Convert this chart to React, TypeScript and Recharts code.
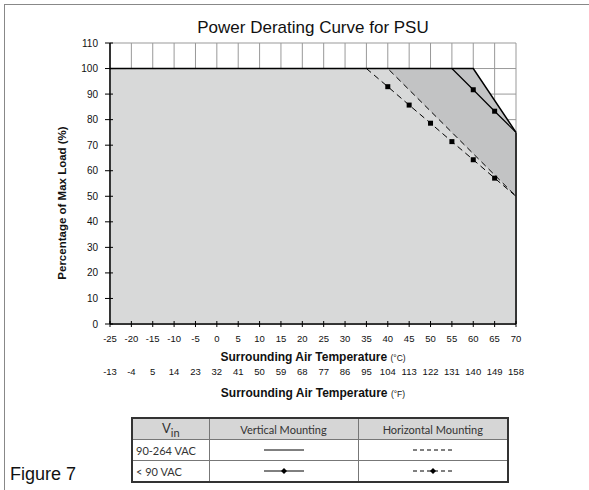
import React from 'react';
import { ComposedChart, Area, Line, XAxis, YAxis, CartesianGrid, ReferenceLine } from 'recharts';

const celsiusTicks = [-25, -20, -15, -10, -5, 0, 5, 10, 15, 20, 25, 30, 35, 40, 45, 50, 55, 60, 65, 70];
const fahrenheitTicks = [-13, -4, 5, 14, 23, 32, 41, 50, 59, 68, 77, 86, 95, 104, 113, 122, 131, 140, 149, 158];
const loadTicks = [0, 10, 20, 30, 40, 50, 60, 70, 80, 90, 100, 110];

// vertical mounting, 90-264 VAC
const vertHighTemp = [-25, 60, 70];
const vertHighLoad = [100, 100, 75];
// vertical mounting, < 90 VAC
const vertLowTemp = [55, 60, 65, 70];
const vertLowLoad = [100, 91.7, 83.3, 75];
// horizontal mounting, 90-264 VAC
const horizHighTemp = [-25, 40, 70];
const horizHighLoad = [100, 100, 50];
// horizontal mounting, < 90 VAC
const horizLowTemp = [35, 40, 45, 50, 55, 60, 65, 70];
const horizLowLoad = [100, 92.9, 85.7, 78.6, 71.4, 64.3, 57.1, 50];

const toPoints = (temps: number[], loads: number[]) => temps.map((t, i) => ({ temp: t, load: loads[i] }));

const vertHigh = toPoints(vertHighTemp, vertHighLoad);
const vertLow = toPoints(vertLowTemp, vertLowLoad);
const horizHigh = toPoints(horizHighTemp, horizHighLoad);
const horizLow = toPoints(horizLowTemp, horizLowLoad);

const FONT = '"Liberation Sans", Arial, sans-serif';

// square marker on inner points only (end points sit on other curves)
const squareDot = (count: number) => (p: any) => {
  const { cx, cy, index } = p;
  if (index === 0 || index === count - 1 || cx == null) return <g key={'d' + index} />;
  return <rect key={'d' + index} x={cx - 2.5} y={cy - 2.5} width={5} height={5} fill="#000" />;
};

const XTick = (p: any) => {
  const { x, y, payload } = p;
  const i = celsiusTicks.indexOf(payload.value);
  return (
    <g>
      <line x1={x} x2={x} y1={y - 3} y2={y + 3} stroke="#000" />
      <text x={x} y={y + 18} textAnchor="middle" fontSize={9.5} fontFamily={FONT} fill="#111">{payload.value}</text>
      <text x={x} y={y + 51} textAnchor="middle" fontSize={9.5} fontFamily={FONT} fill="#111">{fahrenheitTicks[i]}</text>
    </g>
  );
};

const YTick = (p: any) => {
  const { x, y, payload } = p;
  return (
    <g>
      <line x1={x - 5} x2={x + 3} y1={y} y2={y} stroke="#000" />
      <text x={x - 12} y={y + 3.5} textAnchor="end" fontSize={10} fontFamily={FONT} fill="#111">{payload.value}</text>
    </g>
  );
};

const Glyph = ({ dashed, marker }: { dashed?: boolean; marker?: boolean }) => (
  <svg width={40} height={8} style={{ display: 'block', margin: '0 auto' }}>
    <line x1={0} x2={40} y1={4} y2={4} stroke="#000" strokeWidth={1} strokeDasharray={dashed ? '4 3' : undefined} />
    {marker && <polygon points="20,1 23,4 20,7 17,4" fill="#000" />}
  </svg>
);

const cell: React.CSSProperties = { border: '1px solid #777', padding: '0 3px', height: 20, fontFamily: 'Lato, sans-serif', fontSize: 11, color: '#333' };

export default function App() {
  return (
    <div style={{ position: 'absolute', left: 0, top: 0, width: 589, height: 490, background: '#fff', overflow: 'hidden' }}>
      <div style={{ position: 'absolute', left: 4, top: 4, width: 585, borderTop: '1.5px solid #888' }} />
      <div style={{ position: 'absolute', left: 4, top: 4, height: 486, borderLeft: '1.5px solid #888' }} />

      <div style={{ position: 'absolute', left: 110, width: 406, top: 18, textAlign: 'center', fontFamily: FONT, fontSize: 17, lineHeight: '20px', color: '#111' }}>
        Power Derating Curve for PSU
      </div>

      <div style={{ position: 'absolute', left: 0, top: 0 }}>
        <ComposedChart width={589} height={400} margin={{ top: 43, right: 73, left: 70, bottom: 16 }}>
          <CartesianGrid stroke="#999" strokeWidth={1} horizontalValues={loadTicks} verticalValues={celsiusTicks} />
          <XAxis
            dataKey="temp"
            type="number"
            domain={[-25, 70]}
            ticks={celsiusTicks}
            interval={0}
            allowDuplicatedCategory={false}
            height={60}
            tickSize={0}
            tickMargin={0}
            tick={<XTick />}
            axisLine={{ stroke: '#000', strokeWidth: 1.5 }}
            tickLine={false}
          />
          <YAxis
            type="number"
            domain={[0, 110]}
            ticks={loadTicks}
            interval={0}
            width={40}
            tickSize={0}
            tickMargin={0}
            tick={<YTick />}
            axisLine={{ stroke: '#000', strokeWidth: 1.5 }}
            tickLine={false}
          />
          <Area data={vertHigh} dataKey="load" type="linear" stroke="none" fill="#c2c3c4" fillOpacity={1} isAnimationActive={false} />
          <Area data={horizHigh} dataKey="load" type="linear" stroke="none" fill="#d8d9d9" fillOpacity={1} isAnimationActive={false} />
          <ReferenceLine
            segment={[{ x: vertHighTemp[vertHighTemp.length - 1], y: 0 }, { x: vertHighTemp[vertHighTemp.length - 1], y: vertHighLoad[vertHighLoad.length - 1] }]}
            stroke="#000"
            strokeWidth={1.5}
          />
          <Line data={horizHigh} dataKey="load" type="linear" stroke="#000" strokeWidth={1} strokeDasharray="6 4" dot={false} isAnimationActive={false} />
          <Line data={horizLow} dataKey="load" type="linear" stroke="#000" strokeWidth={1} strokeDasharray="6 4" dot={squareDot(horizLow.length)} isAnimationActive={false} />
          <Line data={vertLow} dataKey="load" type="linear" stroke="#000" strokeWidth={1.2} dot={squareDot(vertLow.length)} isAnimationActive={false} />
          <Line data={vertHigh} dataKey="load" type="linear" stroke="#000" strokeWidth={1.5} dot={false} isAnimationActive={false} />
        </ComposedChart>
      </div>

      <div style={{ position: 'absolute', left: 62, top: 203, width: 0, height: 0 }}>
        <div style={{ position: 'absolute', left: -100, top: -8, width: 200, textAlign: 'center', transform: 'rotate(-90deg)', fontFamily: FONT, fontWeight: 'bold', fontSize: 11.5, lineHeight: '16px', color: '#111', whiteSpace: 'nowrap' }}>
          Percentage of Max Load (%)
        </div>
      </div>

      <div style={{ position: 'absolute', left: 110, width: 406, top: 349, textAlign: 'center', fontFamily: FONT, fontWeight: 'bold', fontSize: 12, lineHeight: '16px', color: '#111' }}>
        Surrounding Air Temperature <span style={{ fontWeight: 'normal', fontSize: 8.5 }}>(°C)</span>
      </div>
      <div style={{ position: 'absolute', left: 110, width: 406, top: 385, textAlign: 'center', fontFamily: FONT, fontWeight: 'bold', fontSize: 12, lineHeight: '16px', color: '#111' }}>
        Surrounding Air Temperature <span style={{ fontWeight: 'normal', fontSize: 8.5 }}>(°F)</span>
      </div>

      <table style={{ position: 'absolute', left: 131, top: 417, width: 376, borderCollapse: 'collapse', tableLayout: 'fixed', border: '2.5px solid #333' }}>
        <colgroup>
          <col style={{ width: 77 }} />
          <col style={{ width: 149 }} />
          <col style={{ width: 150 }} />
        </colgroup>
        <tbody>
          <tr style={{ background: '#d6d6d6' }}>
            <td style={{ ...cell, textAlign: 'center', fontSize: 13 }}>V<sub style={{ fontSize: 11 }}>in</sub></td>
            <td style={{ ...cell, textAlign: 'center' }}>Vertical Mounting</td>
            <td style={{ ...cell, textAlign: 'center' }}>Horizontal Mounting</td>
          </tr>
          <tr>
            <td style={cell}>90-264 VAC</td>
            <td style={cell}><Glyph /></td>
            <td style={cell}><Glyph dashed /></td>
          </tr>
          <tr>
            <td style={cell}>&lt; 90 VAC</td>
            <td style={cell}><Glyph marker /></td>
            <td style={cell}><Glyph dashed marker /></td>
          </tr>
        </tbody>
      </table>

      <div style={{ position: 'absolute', left: 10, top: 464, fontFamily: FONT, fontSize: 18, lineHeight: '20px', color: '#111' }}>
        Figure 7
      </div>
    </div>
  );
}
